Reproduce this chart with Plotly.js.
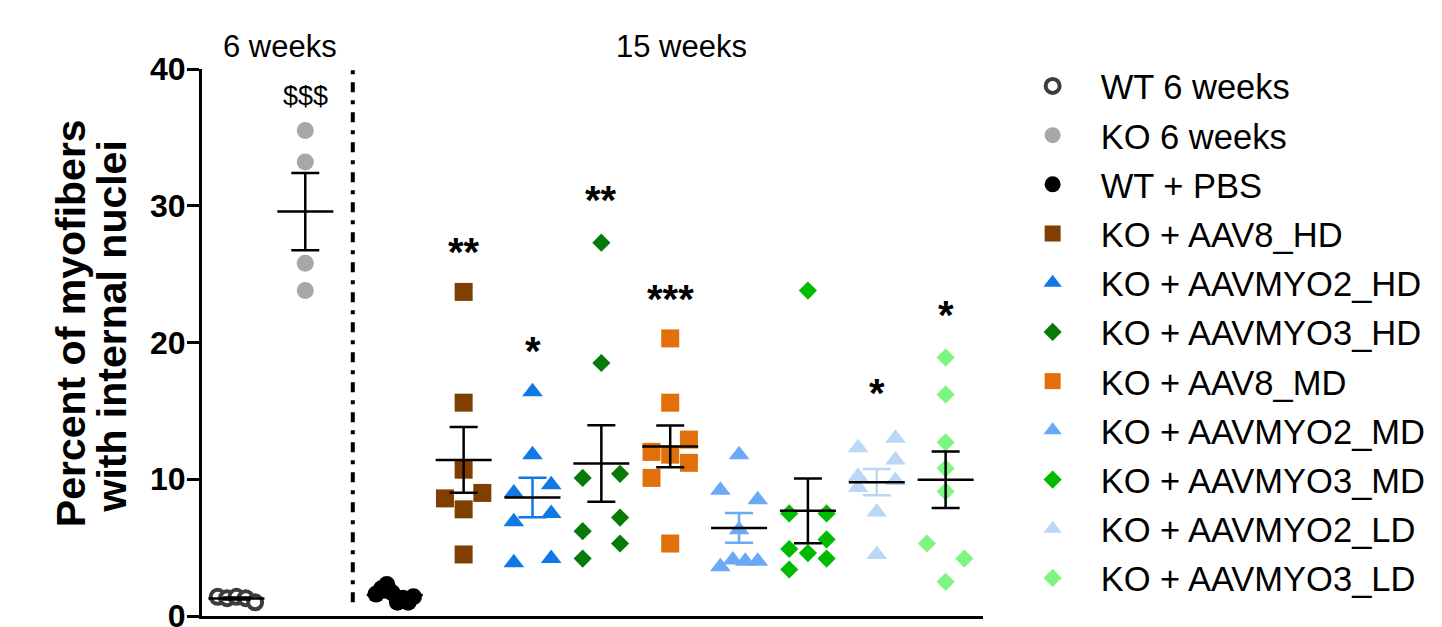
<!DOCTYPE html>
<html><head><meta charset="utf-8">
<script src="https://cdn.plot.ly/plotly-3.0.1.min.js"></script>
<style>html,body{margin:0;padding:0;background:#fff}</style>
</head><body><div id="chart" style="width:1442px;height:627px"></div>
<script>
// ---- data ----
const groupNames = ['WT 6 weeks','KO 6 weeks','WT + PBS','KO + AAV8_HD','KO + AAVMYO2_HD','KO + AAVMYO3_HD','KO + AAV8_MD','KO + AAVMYO2_MD','KO + AAVMYO3_MD','KO + AAVMYO2_LD','KO + AAVMYO3_LD'];
const wt6 = [1.4, 1.3, 1.4, 1.3, 1.0];
const ko6 = [35.5, 33.2, 25.8, 23.8];
const wtPbs = [1.6, 2.0, 2.3, 1.7, 1.0, 1.3, 1.0, 1.4];
const aav8HD = [23.7, 15.6, 10.7, 8.6, 7.8, 9.0, 4.5];
const myo2HD = [16.4, 11.8, 9.0, 9.6, 6.9, 7.5, 3.9, 4.2];
const myo3HD = [27.3, 18.5, 10.1, 10.4, 6.2, 7.2, 4.2, 5.3];
const aav8MD = [20.3, 15.6, 12.0, 11.8, 12.9, 10.1, 11.2, 5.3];
const myo2MD = [11.8, 9.2, 8.5, 6.3, 3.6, 4.1, 4.0, 4.0];
const myo3MD = [23.8, 7.5, 7.5, 4.9, 4.6, 5.6, 3.4, 4.2];
const myo2LD = [12.3, 13.0, 10.2, 11.4, 9.4, 9.9, 7.6, 4.5];
const myo3LD = [18.9, 16.2, 12.7, 10.8, 9.1, 5.3, 4.2, 2.5];
const sigLabels = ['', '$$$', '', '**', '*', '**', '***', '', '', '*', '*'];
const sigY = [null, 38.0, null, 26.6, 19.4, 30.4, 23.2, null, null, 16.3, 22.0];
const sectionLabels = ['6 weeks', '15 weeks'];
const yTitleLines = ['Percent of myofibers', 'with internal nuclei'];

// ---- styles ----
const series = [wt6, ko6, wtPbs, aav8HD, myo2HD, myo3HD, aav8MD, myo2MD, myo3MD, myo2LD, myo3LD];
const colors = ['#3c3c3c','#a7a7aa','#000000','#7f3f00','#1079e6','#087a08','#e2700a','#6aa9f6','#00bb00','#bcd6f6','#80f480'];
const symbols = ['circle','circle','circle','square','triangle-up','diamond','square','triangle-up','diamond','triangle-up','diamond'];
const sizes = [14,17,17,18,18,14,18,18,14,18,14];
const coloredErr = [false,false,false,false,true,false,false,true,false,true,false];
const FONT = 'Liberation Sans, Arial, sans-serif';

const W = 1442, H = 627;
const M = {l: 202, r: 446, t: 69, b: 11};
const plotW = W - M.l - M.r, plotH = H - M.t - M.b;
const xRange = [0, plotW / 70];
const yRange = [0, 40];
const pxPerX = plotW / (xRange[1] - xRange[0]);
const pxPerY = plotH / (yRange[1] - yRange[0]);
const xPos = groupNames.map((_, i) => i < 2 ? 0.5 + i : 2.8 + (i - 2));
const dividerX = 2.19;

// beeswarm-like horizontal spread of points with similar values
function spread(vals, halfPx, bandPx) {
  const idx = vals.map((v, i) => i).sort((a, b) => vals[b] - vals[a] || a - b);
  const rows = [];
  let cur = null;
  idx.forEach(i => {
    if (!cur || (vals[cur[0]] - vals[i]) * pxPerY >= bandPx) { cur = [i]; rows.push(cur); }
    else cur.push(i);
  });
  const off = new Array(vals.length).fill(0);
  rows.forEach(r => {
    r.sort((a, b) => a - b);
    const n = r.length;
    r.forEach((i, k) => { off[i] = n === 1 ? 0 : (-halfPx + k * 2 * halfPx / (n - 1)) / pxPerX; });
  });
  return off;
}
const mean = a => a.reduce((s, v) => s + v, 0) / a.length;
const sem = a => { const m = mean(a); return Math.sqrt(a.reduce((s, v) => s + (v - m) ** 2, 0) / (a.length - 1)) / Math.sqrt(a.length); };

const traces = [];
series.forEach((vals, g) => {
  const off = spread(vals, 19, 19);
  const isWT6 = g === 0;
  traces.push({
    type: 'scatter', mode: 'markers', name: groupNames[g], legendgroup: 'g' + g,
    x: vals.map((v, i) => xPos[g] + off[i]), y: vals,
    marker: {symbol: symbols[g], size: sizes[g],
      color: isWT6 ? '#ffffff' : colors[g],
      line: {width: isWT6 ? 4 : 0, color: colors[g]}},
    hoverinfo: 'skip', cliponaxis: false
  });
});
series.forEach((vals, g) => {
  traces.push({
    type: 'scatter', mode: 'markers', showlegend: false, hoverinfo: 'skip', cliponaxis: false,
    x: [xPos[g]], y: [mean(vals)],
    marker: {symbol: 'line-ew', size: 40, color: '#000', line: {width: 2.5, color: '#000'}},
    error_y: {type: 'data', array: [sem(vals)], visible: true, thickness: 2.5, width: 14,
      color: coloredErr[g] ? colors[g] : '#000'}
  });
});

const annotations = [];
sigLabels.forEach((t, g) => {
  if (!t) return;
  annotations.push({xref: 'x', yref: 'y', x: xPos[g], y: sigY[g], text: t, showarrow: false,
    xanchor: 'center', yanchor: 'middle',
    font: t === '$$$' ? {family: FONT, size: 27, color: '#000'}
                      : {family: FONT, size: 40, weight: 'bold', color: '#000'}});
});
annotations.push({xref: 'paper', yref: 'paper', x: (281 - M.l) / plotW, y: (H - M.b - 47) / plotH,
  text: sectionLabels[0], showarrow: false, xanchor: 'center', yanchor: 'middle',
  font: {family: FONT, size: 31, color: '#000'}});
annotations.push({xref: 'paper', yref: 'paper', x: (689 - M.l) / plotW, y: (H - M.b - 47) / plotH,
  text: sectionLabels[1], showarrow: false, xanchor: 'center', yanchor: 'middle',
  font: {family: FONT, size: 31, color: '#000'}});
[[69, 323], [110, 327]].forEach((p, k) => {
  annotations.push({xref: 'paper', yref: 'paper', x: (p[0] - M.l) / plotW, y: (H - M.b - p[1]) / plotH,
    text: yTitleLines[k], showarrow: false, textangle: -90, xanchor: 'center', yanchor: 'middle',
    font: {family: FONT, size: 41, weight: 'bold', color: '#000'}});
});

const layout = {
  width: W, height: H, margin: M,
  paper_bgcolor: '#fff', plot_bgcolor: '#fff',
  font: {family: FONT, color: '#000'},
  xaxis: {range: xRange, showgrid: false, zeroline: false, showticklabels: false, ticks: '',
    showline: true, linewidth: 3, linecolor: '#000', fixedrange: true},
  yaxis: {range: yRange, showgrid: false, zeroline: false, tickmode: 'linear', tick0: 0, dtick: 10,
    ticks: 'outside', ticklen: 12, tickwidth: 3, tickcolor: '#000', ticklabeloverflow: 'allow',
    ticklabelstandoff: -5,
    showline: true, linewidth: 3, linecolor: '#000',
    tickfont: {family: FONT, size: 32, weight: 'bold', color: '#000'}, fixedrange: true},
  showlegend: true,
  legend: {x: (1018 - M.l) / plotW, xanchor: 'left', y: (H - M.b - 57) / plotH, yanchor: 'top',
    itemwidth: 86, maxheight: 620, tracegroupgap: 1.35, bgcolor: 'rgba(0,0,0,0)', borderwidth: 0,
    font: {family: FONT, size: 34.5, color: '#000'}},
  shapes: [{type: 'line', xref: 'x', yref: 'y', x0: dividerX, x1: dividerX, y0: 1.0, y1: 40,
    line: {color: '#000', width: 4, dash: '10px,8px,4px,8px'}}],
  annotations: annotations
};
Plotly.newPlot('chart', traces, layout, {staticPlot: true, displayModeBar: false});
</script></body></html>
